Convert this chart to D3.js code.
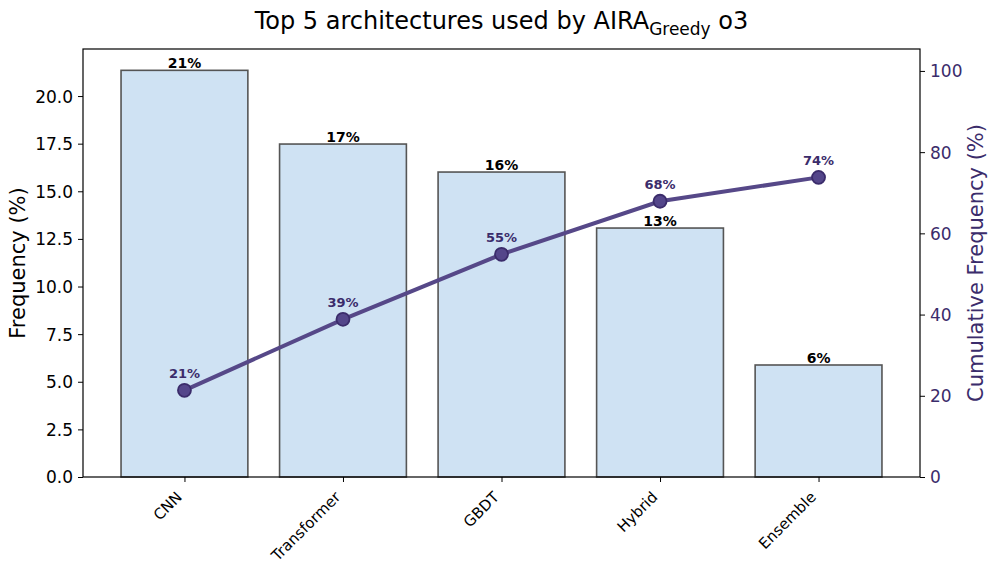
<!DOCTYPE html>
<html>
<head>
<meta charset="utf-8">
<script src="https://cdn.jsdelivr.net/npm/d3@7"></script>
<style>
  body { margin: 0; background: #fff; }
  text { font-family: "DejaVu Sans", sans-serif; }
</style>
</head>
<body>
<div id="chart"></div>
<script>
// data
const categories = ["CNN", "Transformer", "GBDT", "Hybrid", "Ensemble"];
const frequency = [21.35, 17.48, 16.01, 13.07, 5.88];
const cumulative = [21.35, 38.83, 54.84, 67.91, 73.79];
const leftTicks = [0, 2.5, 5, 7.5, 10, 12.5, 15, 17.5, 20];
const rightTicks = [0, 20, 40, 60, 80, 100];

const width = 997, height = 572;
const margin = { left: 83, right: 77, top: 49, bottom: 95 };
const purple = "#3b2c6b";

const svg = d3.select("#chart").append("svg")
    .attr("width", width)
    .attr("height", height);

const x = d3.scaleLinear()
    .domain([-0.64, categories.length - 1 + 0.64])
    .range([margin.left, width - margin.right]);

const y = d3.scaleLinear()
    .domain([0, 22.47])
    .range([height - margin.bottom, margin.top]);

const y2 = d3.scaleLinear()
    .domain([0, 105.4])
    .range([height - margin.bottom, margin.top]);

const bw = x(0.4) - x(-0.4);

// bars
svg.selectAll("rect.bar")
    .data(frequency)
    .join("rect")
    .attr("class", "bar")
    .attr("x", (d, i) => x(i) - bw / 2)
    .attr("width", bw)
    .attr("y", d => y(d))
    .attr("height", d => y(0) - y(d))
    .attr("fill", "#cfe2f3")
    .attr("stroke", "#555555")
    .attr("stroke-width", 1.6);

// bar labels
svg.selectAll("text.barlab")
    .data(frequency)
    .join("text")
    .attr("class", "barlab")
    .attr("x", (d, i) => x(i))
    .attr("y", d => y(d) - 2)
    .attr("text-anchor", "middle")
    .style("font-size", "14px")
    .style("font-weight", "bold")
    .text(d => Math.round(d) + "%");

// cumulative line
const line = d3.line()
    .x((d, i) => x(i))
    .y(d => y2(d));

svg.append("path")
    .datum(cumulative)
    .attr("d", line)
    .attr("fill", "none")
    .attr("stroke", "#564888")
    .attr("stroke-width", 4);

svg.selectAll("circle.pt")
    .data(cumulative)
    .join("circle")
    .attr("class", "pt")
    .attr("cx", (d, i) => x(i))
    .attr("cy", d => y2(d))
    .attr("r", 6.5)
    .attr("fill", "#54468a")
    .attr("stroke", "#3b2c6b")
    .attr("stroke-width", 1.8);

svg.selectAll("text.cumlab")
    .data(cumulative)
    .join("text")
    .attr("class", "cumlab")
    .attr("x", (d, i) => x(i))
    .attr("y", d => y2(d) - 12)
    .attr("text-anchor", "middle")
    .attr("fill", purple)
    .style("font-size", "13px")
    .style("font-weight", "bold")
    .text(d => Math.round(d) + "%");

// frame
svg.append("rect")
    .attr("x", margin.left)
    .attr("y", margin.top)
    .attr("width", width - margin.left - margin.right)
    .attr("height", height - margin.top - margin.bottom)
    .attr("fill", "none")
    .attr("stroke", "#000")
    .attr("stroke-width", 1.2);

// left axis
const gl = svg.append("g")
    .attr("transform", `translate(${margin.left},0)`)
    .call(d3.axisLeft(y).tickValues(leftTicks).tickFormat(d3.format(".1f")).tickSize(5).tickPadding(5));
gl.select(".domain").remove();
gl.selectAll("text").style("font-size", "17px").attr("dy", "0.35em").attr("fill", "#000");

// right axis
const gr = svg.append("g")
    .attr("transform", `translate(${width - margin.right},0)`)
    .call(d3.axisRight(y2).tickValues(rightTicks).tickSize(5).tickPadding(5));
gr.select(".domain").remove();
gr.selectAll("line").attr("stroke", "#000");
gr.selectAll("text").style("font-size", "17px").attr("dy", "0.35em").attr("fill", purple);

// bottom axis
const gb = svg.append("g")
    .attr("transform", `translate(0,${height - margin.bottom})`)
    .call(d3.axisBottom(x).tickValues(d3.range(categories.length)).tickFormat(i => categories[i]).tickSize(5));
gb.select(".domain").remove();
gb.selectAll("text")
    .style("font-size", "15px")
    .attr("fill", "#000")
    .attr("text-anchor", "end")
    .attr("dy", null)
    .attr("y", 0)
    .attr("transform", "translate(-2,21) rotate(-45)");

// axis titles
svg.append("text")
    .attr("transform", `translate(25,${(margin.top + height - margin.bottom) / 2}) rotate(-90)`)
    .attr("text-anchor", "middle")
    .style("font-size", "21px")
    .text("Frequency (%)");

svg.append("text")
    .attr("transform", `translate(983,${(margin.top + height - margin.bottom) / 2}) rotate(-90)`)
    .attr("text-anchor", "middle")
    .attr("fill", purple)
    .style("font-size", "21px")
    .text("Cumulative Frequency (%)");

// title
const title = svg.append("text")
    .attr("x", (margin.left + width - margin.right) / 2)
    .attr("y", 29)
    .attr("text-anchor", "middle")
    .style("font-size", "24px");
title.append("tspan").text("Top 5 architectures used by AIRA");
title.append("tspan").attr("dy", 6).style("font-size", "17px").text("Greedy");
title.append("tspan").attr("dy", -6).text(" o3");
</script>
</body>
</html>
